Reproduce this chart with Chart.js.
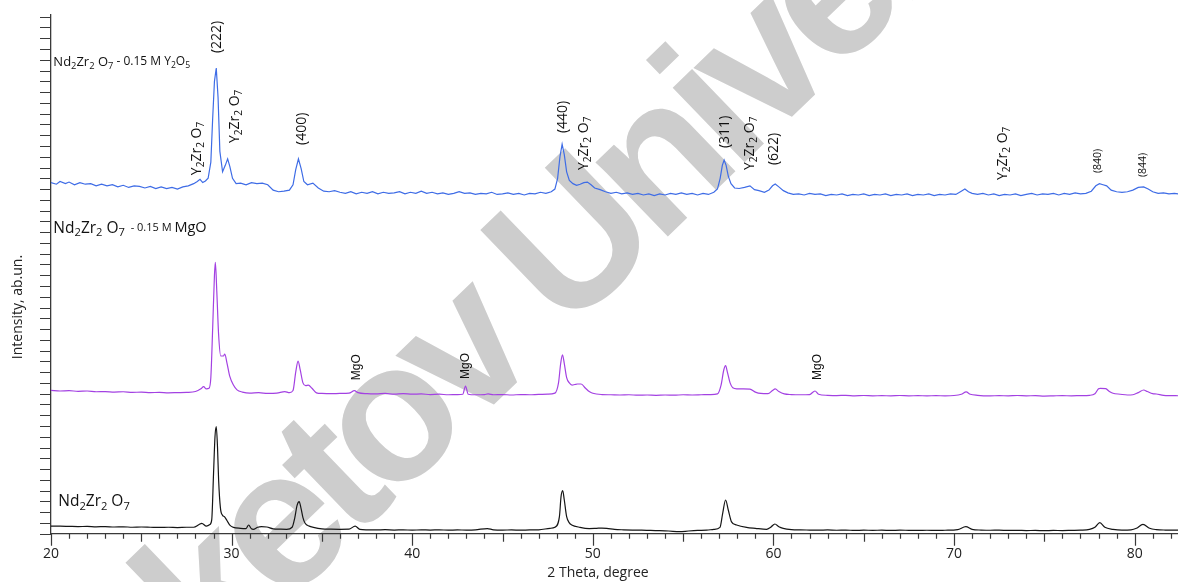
<!DOCTYPE html>
<html>
<head>
<meta charset="utf-8">
<script src="https://cdn.jsdelivr.net/npm/chart.js@4/dist/chart.umd.min.js"></script>
<style>
  html, body { margin: 0; padding: 0; background: #fff; overflow: hidden; }
  #xrd { display: block; }
</style>
</head>
<body>
<canvas id="xrd" width="1178" height="582"></canvas>
<script>
// XRD patterns, stacked with offsets (2theta in degrees, intensity in arbitrary units)
const scanY2O5 = [
  [20.0, 32.6], [20.3, 32.45], [20.5, 32.7], [20.8, 32.5], [21.0, 32.65], [21.3, 32.4], [21.6, 32.6], [21.9, 32.45],
  [22.2, 32.5], [22.5, 32.3], [22.8, 32.45], [23.1, 32.3], [23.4, 32.4], [23.7, 32.2], [24.0, 32.35], [24.3, 32.15],
  [24.6, 32.3], [24.9, 32.25], [25.2, 32.1], [25.5, 32.25], [25.8, 32.05], [26.1, 32.2], [26.4, 32.05], [26.7, 32.15],
  [27.0, 32.0], [27.3, 32.2], [27.6, 32.3], [27.9, 32.5], [28.1, 32.7], [28.25, 32.9], [28.4, 32.6], [28.55, 32.75],
  [28.7, 33.0], [28.85, 34.5], [28.95, 38.5], [29.05, 42.0], [29.15, 43.24], [29.25, 40.5], [29.35, 35.5], [29.5, 33.6],
  [29.65, 34.2], [29.78, 34.8], [29.9, 34.1], [30.05, 33.0], [30.25, 32.5], [30.5, 32.55], [30.8, 32.4], [31.1, 32.6],
  [31.4, 32.5], [31.7, 32.55], [32.0, 32.4], [32.3, 31.9], [32.6, 31.75], [32.9, 31.8], [33.2, 31.9], [33.4, 32.4],
  [33.55, 33.8], [33.7, 34.8], [33.85, 33.9], [34.0, 32.7], [34.2, 32.4], [34.5, 32.55], [34.8, 32.1], [35.1, 31.8],
  [35.4, 31.75], [35.7, 31.85], [36.0, 31.7], [36.3, 31.6], [36.6, 31.75], [36.9, 31.55], [37.2, 31.7], [37.5, 31.6],
  [37.8, 31.75], [38.1, 31.55], [38.4, 31.7], [38.7, 31.6], [39.0, 31.65], [39.3, 31.75], [39.6, 31.55], [39.9, 31.7],
  [40.2, 31.6], [40.5, 31.8], [40.8, 31.6], [41.1, 31.7], [41.4, 31.55], [41.7, 31.65], [42.0, 31.5], [42.3, 31.6],
  [42.6, 31.75], [42.9, 31.6], [43.2, 31.65], [43.5, 31.5], [43.8, 31.6], [44.1, 31.55], [44.4, 31.7], [44.7, 31.5],
  [45.0, 31.55], [45.3, 31.65], [45.6, 31.5], [45.9, 31.6], [46.2, 31.45], [46.5, 31.6], [46.8, 31.55], [47.1, 31.7],
  [47.4, 31.6], [47.7, 31.75], [47.9, 32.0], [48.05, 33.0], [48.18, 35.0], [48.3, 36.17], [48.42, 35.2], [48.55, 33.6],
  [48.7, 32.8], [48.9, 32.5], [49.1, 32.35], [49.3, 32.45], [49.5, 32.6], [49.7, 32.65], [49.9, 32.4], [50.1, 32.1],
  [50.4, 31.95], [50.7, 31.75], [51.0, 31.6], [51.3, 31.7], [51.6, 31.55], [51.9, 31.65], [52.2, 31.5], [52.5, 31.6],
  [52.8, 31.45], [53.1, 31.55], [53.4, 31.4], [53.7, 31.55], [54.0, 31.45], [54.3, 31.6], [54.6, 31.5], [54.9, 31.65],
  [55.2, 31.5], [55.5, 31.6], [55.8, 31.45], [56.1, 31.6], [56.4, 31.5], [56.7, 31.7], [56.9, 32.0], [57.05, 33.0],
  [57.17, 34.2], [57.27, 34.7], [57.38, 34.2], [57.5, 33.2], [57.65, 32.5], [57.85, 32.1], [58.1, 32.05], [58.4, 32.15],
  [58.7, 32.3], [58.95, 31.95], [59.2, 31.85], [59.5, 31.7], [59.75, 31.9], [59.95, 32.3], [60.1, 32.47], [60.3, 32.2],
  [60.55, 31.85], [60.8, 31.65], [61.1, 31.5], [61.4, 31.55], [61.7, 31.45], [62.0, 31.6], [62.3, 31.5], [62.6, 31.55],
  [62.9, 31.4], [63.2, 31.5], [63.5, 31.45], [63.8, 31.55], [64.1, 31.4], [64.4, 31.5], [64.7, 31.45], [65.0, 31.55],
  [65.3, 31.4], [65.6, 31.5], [65.9, 31.45], [66.2, 31.55], [66.5, 31.4], [66.8, 31.5], [67.1, 31.45], [67.4, 31.55],
  [67.7, 31.4], [68.0, 31.5], [68.3, 31.45], [68.6, 31.55], [68.9, 31.4], [69.2, 31.5], [69.5, 31.45], [69.8, 31.55],
  [70.1, 31.5], [70.4, 31.8], [70.6, 32.0], [70.8, 31.75], [71.0, 31.6], [71.3, 31.5], [71.6, 31.6], [71.9, 31.45],
  [72.2, 31.55], [72.5, 31.4], [72.8, 31.5], [73.1, 31.45], [73.4, 31.55], [73.7, 31.4], [74.0, 31.5], [74.3, 31.6],
  [74.6, 31.45], [74.9, 31.55], [75.2, 31.5], [75.5, 31.6], [75.8, 31.45], [76.1, 31.6], [76.4, 31.5], [76.7, 31.65],
  [77.0, 31.55], [77.3, 31.6], [77.6, 31.8], [77.85, 32.3], [78.05, 32.5], [78.25, 32.4], [78.45, 32.3], [78.7, 31.9],
  [79.0, 31.75], [79.3, 31.7], [79.6, 31.75], [79.9, 31.9], [80.2, 32.15], [80.5, 32.2], [80.75, 32.0], [81.0, 31.75],
  [81.3, 31.6], [81.6, 31.65], [81.9, 31.55], [82.2, 31.6], [82.4, 31.55]
];

const scanMgO = [
  [20.0, 13.3], [20.5, 13.25], [21.0, 13.28], [21.5, 13.22], [22.0, 13.25], [22.5, 13.18], [23.0, 13.2], [23.5, 13.15],
  [24.0, 13.18], [24.5, 13.12], [25.0, 13.15], [25.5, 13.1], [26.0, 13.12], [26.5, 13.08], [27.0, 13.1], [27.5, 13.12],
  [28.0, 13.2], [28.3, 13.45], [28.45, 13.65], [28.6, 13.45], [28.75, 13.5], [28.85, 14.5], [28.95, 19.0], [29.05, 24.0],
  [29.1, 25.2], [29.18, 22.5], [29.28, 18.5], [29.4, 16.5], [29.55, 16.5], [29.62, 16.67], [29.75, 15.8], [29.9, 14.6],
  [30.1, 13.8], [30.3, 13.35], [30.6, 13.15], [31.0, 13.05], [31.5, 13.1], [32.0, 13.02], [32.5, 13.05], [32.95, 13.2],
  [33.2, 13.1], [33.4, 13.3], [33.55, 15.0], [33.68, 16.03], [33.8, 15.2], [33.95, 14.0], [34.1, 13.75], [34.25, 13.8],
  [34.45, 13.5], [34.7, 13.08], [35.0, 13.02], [35.5, 13.0], [36.0, 13.02], [36.5, 13.05], [36.8, 13.28], [37.0, 13.1],
  [37.5, 13.0], [38.0, 12.98], [38.5, 13.02], [39.0, 12.95], [39.5, 13.0], [40.0, 12.95], [40.5, 12.98], [41.0, 12.92],
  [41.5, 12.95], [42.0, 12.9], [42.5, 12.92], [42.8, 12.95], [42.95, 13.71], [43.1, 12.95], [43.5, 12.9], [44.0, 12.92],
  [44.2, 12.98], [44.5, 12.9], [45.0, 12.92], [45.5, 12.88], [46.0, 12.92], [46.5, 12.9], [47.0, 12.93], [47.5, 12.95],
  [47.9, 13.05], [48.1, 14.0], [48.22, 15.8], [48.32, 16.6], [48.42, 15.8], [48.55, 14.5], [48.7, 14.0], [48.85, 13.8],
  [49.0, 13.85], [49.15, 13.9], [49.35, 13.9], [49.6, 13.5], [49.8, 13.2], [50.0, 13.04], [50.5, 12.92], [51.0, 12.9],
  [51.5, 12.88], [52.0, 12.9], [52.5, 12.86], [53.0, 12.88], [53.5, 12.85], [54.0, 12.88], [54.5, 12.86], [55.0, 12.9],
  [55.5, 12.88], [56.0, 12.9], [56.5, 12.92], [56.9, 12.98], [57.1, 13.8], [57.25, 15.2], [57.35, 15.6], [57.45, 15.0],
  [57.6, 14.0], [57.75, 13.55], [58.0, 13.45], [58.3, 13.44], [58.7, 13.42], [59.0, 13.15], [59.3, 13.02], [59.7, 13.0],
  [59.95, 13.3], [60.1, 13.44], [60.3, 13.2], [60.6, 12.98], [61.0, 12.92], [61.5, 12.9], [62.0, 12.92], [62.3, 13.25],
  [62.5, 12.95], [63.0, 12.85], [63.5, 12.82], [64.0, 12.85], [64.5, 12.8], [65.0, 12.83], [65.5, 12.8], [66.0, 12.82],
  [66.5, 12.8], [67.0, 12.83], [67.5, 12.8], [68.0, 12.82], [68.5, 12.8], [69.0, 12.82], [69.5, 12.8], [70.0, 12.83],
  [70.4, 12.95], [70.67, 13.16], [70.9, 12.95], [71.3, 12.85], [72.0, 12.8], [72.5, 12.82], [73.0, 12.8], [73.5, 12.83],
  [74.0, 12.8], [74.5, 12.82], [75.0, 12.78], [75.5, 12.8], [76.0, 12.82], [76.5, 12.8], [77.0, 12.82], [77.5, 12.85],
  [77.8, 13.0], [78.0, 13.45], [78.1, 13.5], [78.4, 13.47], [78.6, 13.2], [78.8, 13.04], [79.2, 12.95], [79.6, 12.88],
  [79.9, 12.9], [80.2, 13.1], [80.5, 13.34], [80.7, 13.2], [81.0, 13.0], [81.2, 12.97], [81.6, 12.85], [82.0, 12.82],
  [82.4, 12.81]
];

const scanPure = [
  [20.0, 0.71], [20.5, 0.7], [21.0, 0.68], [21.5, 0.66], [22.0, 0.68], [22.5, 0.64], [23.0, 0.66], [23.5, 0.62],
  [24.0, 0.64], [24.5, 0.6], [25.0, 0.62], [25.5, 0.6], [26.0, 0.58], [26.5, 0.6], [27.0, 0.57], [27.5, 0.6],
  [27.9, 0.6], [28.2, 0.85], [28.35, 0.96], [28.6, 0.71], [28.8, 0.85], [28.9, 1.3], [29.0, 5.6], [29.08, 9.0],
  [29.15, 9.94], [29.22, 8.0], [29.28, 5.0], [29.38, 2.4], [29.5, 1.7], [29.6, 1.58], [29.75, 1.2], [29.9, 0.8],
  [30.1, 0.59], [30.5, 0.5], [30.8, 0.48], [30.94, 0.81], [31.1, 0.45], [31.2, 0.41], [31.45, 0.6], [31.65, 0.65],
  [31.95, 0.62], [32.3, 0.45], [32.7, 0.42], [33.05, 0.41], [33.35, 0.6], [33.5, 1.5], [33.62, 2.6], [33.74, 2.97],
  [33.85, 2.3], [33.95, 1.5], [34.07, 0.97], [34.3, 0.7], [34.53, 0.59], [35.0, 0.45], [35.5, 0.42], [36.0, 0.41],
  [36.5, 0.42], [36.84, 0.71], [37.1, 0.4], [37.5, 0.36], [38.0, 0.35], [38.5, 0.37], [39.0, 0.34], [39.5, 0.36],
  [40.0, 0.33], [40.5, 0.36], [41.0, 0.34], [41.5, 0.36], [42.0, 0.33], [42.5, 0.35], [43.0, 0.34], [43.5, 0.36],
  [44.16, 0.48], [44.5, 0.36], [45.0, 0.34], [45.5, 0.35], [46.0, 0.33], [46.5, 0.35], [47.0, 0.36], [47.63, 0.5],
  [47.9, 0.6], [48.15, 1.58], [48.24, 3.44], [48.33, 4.0], [48.42, 3.13], [48.55, 1.58], [48.7, 1.0], [48.83, 0.81],
  [49.29, 0.59], [49.8, 0.48], [50.2, 0.5], [50.5, 0.52], [50.77, 0.5], [51.2, 0.4], [51.7, 0.36], [52.2, 0.34],
  [52.7, 0.33], [53.2, 0.3], [53.7, 0.28], [54.2, 0.25], [54.8, 0.19], [55.3, 0.25], [55.8, 0.3], [56.3, 0.33],
  [56.7, 0.4], [57.04, 0.59], [57.19, 1.89], [57.35, 3.13], [57.5, 2.2], [57.68, 1.1], [57.96, 0.81], [58.51, 0.59],
  [59.0, 0.5], [59.62, 0.41], [59.85, 0.6], [60.08, 0.9], [60.3, 0.65], [60.54, 0.5], [61.0, 0.38], [61.5, 0.35],
  [62.0, 0.34], [62.5, 0.33], [63.0, 0.35], [63.5, 0.32], [64.0, 0.34], [64.5, 0.3], [65.0, 0.33], [65.5, 0.31],
  [66.0, 0.33], [66.5, 0.3], [67.0, 0.33], [67.5, 0.31], [68.0, 0.3], [68.5, 0.32], [69.0, 0.3], [69.5, 0.32],
  [70.2, 0.38], [70.65, 0.65], [71.0, 0.4], [71.5, 0.34], [72.0, 0.32], [72.5, 0.33], [73.0, 0.3], [73.5, 0.31],
  [74.0, 0.29], [74.5, 0.3], [75.0, 0.28], [75.5, 0.3], [76.0, 0.29], [76.5, 0.31], [77.0, 0.33], [77.5, 0.4],
  [77.8, 0.59], [78.07, 1.02], [78.35, 0.59], [78.8, 0.41], [79.3, 0.34], [79.8, 0.36], [80.1, 0.5], [80.46, 0.87],
  [80.83, 0.5], [81.2, 0.38], [81.7, 0.34], [82.4, 0.33]
];

// peak annotations on the top pattern ("_" marks a subscript character)
const peakText = ['(222)', 'Y_2Zr_2 O_7', 'Y_2Zr_2 O_7', '(400)', '(440)', 'Y_2Zr_2 O_7', '(311)', 'Y_2Zr_2 O_7', '(622)', 'Y_2Zr_2 O_7', '(840)', '(844)'];
const peakAt = [29.2, 28.09, 30.2, 33.91, 48.35, 49.51, 57.32, 58.7, 60.03, 72.7, 77.96, 80.45];
const peakLevel = [44.63, 33.29, 36.27, 36.09, 37.2, 33.77, 35.81, 33.77, 34.23, 32.84, 33.49, 33.12];

// MgO impurity marks on the middle pattern
const mgoAt = [36.95, 42.98, 62.46];
const mgoLevel = [14.25, 14.36, 14.27];

// sample names
const sampleAt = [20.13, 20.13, 20.4];
const sampleLevel = [43.8, 28.37, 2.94];

const xMin = 20, xMax = 82.4;
const yMin = 0, yMax = 48.16;

const axisColor = '#3a3a3a';
const textFont = '"Open Sans", "DejaVu Sans", sans-serif';

// draws text where "_x" puts x as a subscript, returns width
function drawRich(ctx, text, size, family, subScale) {
    let x = 0;
    for (let i = 0; i < text.length; i++) {
        let ch = text[i];
        let sub = false;
        if (ch === '_') { sub = true; ch = text[++i]; }
        const fs = sub ? size * subScale : size;
        ctx.font = fs + 'px ' + family;
        ctx.fillText(ch, x, sub ? size * 0.3 : 0);
        x += ctx.measureText(ch).width;
    }
    return x;
}

const watermark = {
    id: 'watermark',
    beforeDraw(chart) {
        const ctx = chart.ctx;
        ctx.save();
        ctx.translate(45, 838);
        ctx.rotate(-44 * Math.PI / 180);
        ctx.font = 'bold 196px "Liberation Sans", Arial, sans-serif';
        ctx.letterSpacing = '-13px';
        ctx.fillStyle = '#cdcdcd';
        ctx.textBaseline = 'alphabetic';
        ctx.fillText('Buketov University', 0, 0);
        ctx.restore();
    }
};

const axisTicks = {
    id: 'axisTicks',
    afterDraw(chart) {
        const { ctx, chartArea } = chart;
        const x = chart.scales.x, y = chart.scales.y;
        ctx.save();
        ctx.strokeStyle = axisColor;
        ctx.lineWidth = 1.2;
        ctx.beginPath();
        for (let v = 0; v <= 48; v++) {
            const py = Math.round(y.getPixelForValue(v)) + 0.5;
            ctx.moveTo(chartArea.left - 11, py);
            ctx.lineTo(chartArea.left, py);
        }
        for (let v = 20; v <= 82; v++) {
            const px = Math.round(x.getPixelForValue(v)) + 0.5;
            const len = v % 10 === 0 ? 12 : (v % 5 === 0 ? 8 : 5);
            ctx.moveTo(px, chartArea.bottom);
            ctx.lineTo(px, chartArea.bottom + len);
        }
        ctx.stroke();

        // axis titles
        ctx.fillStyle = '#222';
        ctx.font = '14px ' + textFont;
        ctx.textAlign = 'center';
        ctx.textBaseline = 'middle';
        ctx.fillText('2 Theta, degree', 598, 573);
        ctx.translate(18, 307);
        ctx.rotate(-Math.PI / 2);
        ctx.fillText('Intensity, ab.un.', 0, 0);
        ctx.restore();
    }
};

const annotations = {
    id: 'annotations',
    afterDatasetsDraw(chart) {
        const ctx = chart.ctx;
        const x = chart.scales.x, y = chart.scales.y;
        ctx.save();
        ctx.fillStyle = '#111';
        ctx.textAlign = 'left';
        ctx.textBaseline = 'middle';

        peakText.forEach((t, i) => {
            const small = t === '(840)' || t === '(844)';
            ctx.save();
            ctx.translate(x.getPixelForValue(peakAt[i]), y.getPixelForValue(peakLevel[i]));
            ctx.rotate(-Math.PI / 2);
            drawRich(ctx, t, small ? 10.5 : 14, textFont, 0.72);
            ctx.restore();
        });

        mgoAt.forEach((v, i) => {
            ctx.save();
            ctx.translate(x.getPixelForValue(v), y.getPixelForValue(mgoLevel[i]));
            ctx.rotate(-Math.PI / 2);
            ctx.font = '12px "Liberation Sans", Arial, sans-serif';
            ctx.fillText('MgO', 0, 0);
            ctx.restore();
        });

        const names = [
            [['Nd_2Zr_2 O_7', 13], [' - 0.15 M Y_2O_5', 12]],
            [['Nd_2Zr_2 O_7', 15.5], ['  - 0.15 M ', 11], ['MgO', 14.5]],
            [['Nd_2Zr_2 O_7', 15.5]]
        ];
        names.forEach((parts, i) => {
            ctx.save();
            ctx.translate(x.getPixelForValue(sampleAt[i]), y.getPixelForValue(sampleLevel[i]));
            parts.forEach(([t, size]) => {
                const w = drawRich(ctx, t, size, textFont, 0.72);
                ctx.translate(w, 0);
            });
            ctx.restore();
        });
        ctx.restore();
    }
};

const toPoints = arr => arr.map(p => ({ x: p[0], y: p[1] }));

new Chart(document.getElementById('xrd'), {
    type: 'line',
    data: {
        datasets: [
            { label: 'Nd2Zr2O7 - 0.15 M Y2O5', data: toPoints(scanY2O5), borderColor: '#3e6ce6', cubicInterpolationMode: 'default', tension: 0 },
            { label: 'Nd2Zr2O7 - 0.15 M MgO', data: toPoints(scanMgO), borderColor: '#a341e2' },
            { label: 'Nd2Zr2O7', data: toPoints(scanPure), borderColor: '#151515' }
        ]
    },
    options: {
        responsive: false,
        animation: false,
        elements: {
            point: { radius: 0 },
            line: { borderWidth: 1.2, cubicInterpolationMode: 'monotone', fill: false }
        },
        layout: { padding: { top: 15, right: 0, left: 0, bottom: 0 } },
        plugins: {
            legend: { display: false },
            tooltip: { enabled: false }
        },
        scales: {
            x: {
                type: 'linear',
                min: xMin,
                max: xMax,
                grid: { display: false, drawTicks: false },
                border: { display: true, color: axisColor, width: 1.3 },
                ticks: {
                    stepSize: 10,
                    includeBounds: false,
                    autoSkip: false,
                    maxRotation: 0,
                    padding: 12,
                    color: '#222',
                    font: { family: textFont, size: 14 },
                    callback: v => (v % 10 === 0 ? v : '')
                },
                afterFit(scale) { scale.height = 48.3; }
            },
            y: {
                type: 'linear',
                min: yMin,
                max: yMax,
                grid: { display: false, drawTicks: false },
                border: { display: true, color: axisColor, width: 1.3 },
                ticks: { display: false, stepSize: 1 },
                afterFit(scale) { scale.width = 51; }
            }
        }
    },
    plugins: [watermark, axisTicks, annotations]
});
</script>
</body>
</html>
